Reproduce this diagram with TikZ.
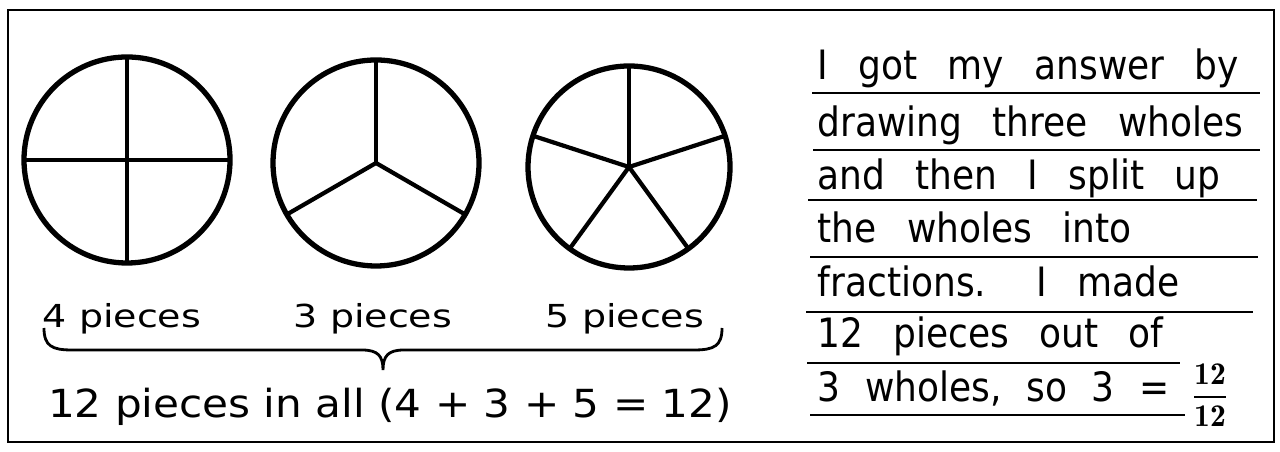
\documentclass[tikz,border=0pt]{standalone}
\usepackage{fontspec}
\setsansfont{DejaVu Sans}
\newfontfamily\handfont[FakeStretch=0.89]{DejaVu Sans}
\newfontfamily\piecefont[FakeStretch=1.2]{DejaVu Sans}
\newfontfamily\sumfont[FakeStretch=1.09]{DejaVu Sans}
\newcommand\handsetup{\handfont\fontsize{11.5}{13}\selectfont\spaceskip 8.6pt\relax}

\begin{document}
\begin{tikzpicture}[
    x=0.01cm, y=0.01cm,
    font=\sffamily,
    whole/.style={line width=1.5pt},
    spoke/.style={line width=1.2pt},
    piecetext/.style={font=\piecefont\fontsize{9}{11}\selectfont, anchor=base, inner sep=0pt},
    sumtext/.style={font=\sumfont\fontsize{11}{13}\selectfont, anchor=base, inner sep=0pt},
    sentence/.style={font=\handsetup, anchor=base west, inner sep=0pt},
    ruling/.style={line width=0.6pt}
]
\useasboundingbox (0,0) rectangle (1280,452);
\draw[line width=0.8pt] (8,10) rectangle (1274,442);

% the three wholes
\coordinate (c1) at (127,292);
\coordinate (c2) at (376,289);
\coordinate (c3) at (629,285);

\draw[whole] (c1) circle (103);
\foreach \a in {0,90,180,270} \draw[spoke] (c1) -- ++(\a:103);

\draw[whole] (c2) circle (103);
\foreach \a in {90,210,330} \draw[spoke] (c2) -- ++(\a:103);

\draw[whole] (c3) circle (101);
\foreach \a in {18,90,162,234,306} \draw[spoke] (c3) -- ++(\a:101);

\node[piecetext] (p4) at (122,124) {4 pieces};
\node[piecetext] (p3) at (373,124) {3 pieces};
\node[piecetext] (p5) at (625,124) {5 pieces};

\draw[line width=0.8pt] (44,124) .. controls (44,106) and (52,102) .. (72,102)
    -- (362,102) .. controls (378,102) and (383,96) .. (383,82)
    .. controls (383,96) and (388,102) .. (404,102)
    -- (694,102) .. controls (714,102) and (722,106) .. (722,124);

\node[sumtext] (total) at (390,34) {12 pieces in all (4 + 3 + 5 = 12)};

% the written answer
\foreach \y/\txt [count=\i] in {372/I got my answer by, 315/drawing three wholes,
    262/and then I split up, 209/the wholes into, 155/{fractions.\hspace{0.5cm}I made},
    104/12 pieces out of, 50/{\spaceskip 7pt 3 wholes, so 3 =}}
  \node[sentence] (line\i) at (817,\y) {\txt};

\foreach \y/\xa/\xb in {359/812/1260, 302/813/1260, 252/808/1257, 195/810/1258,
    140/806/1253, 89/807/1180, 37/810/1185}
  \draw[ruling] (\xa,\y) -- (\xb,\y);

\node (frac) at (1210,57) {\fontsize{9}{10}\selectfont$\displaystyle\frac{\mathbf{12}}{\mathbf{12}}$};

\end{tikzpicture}
\end{document}
